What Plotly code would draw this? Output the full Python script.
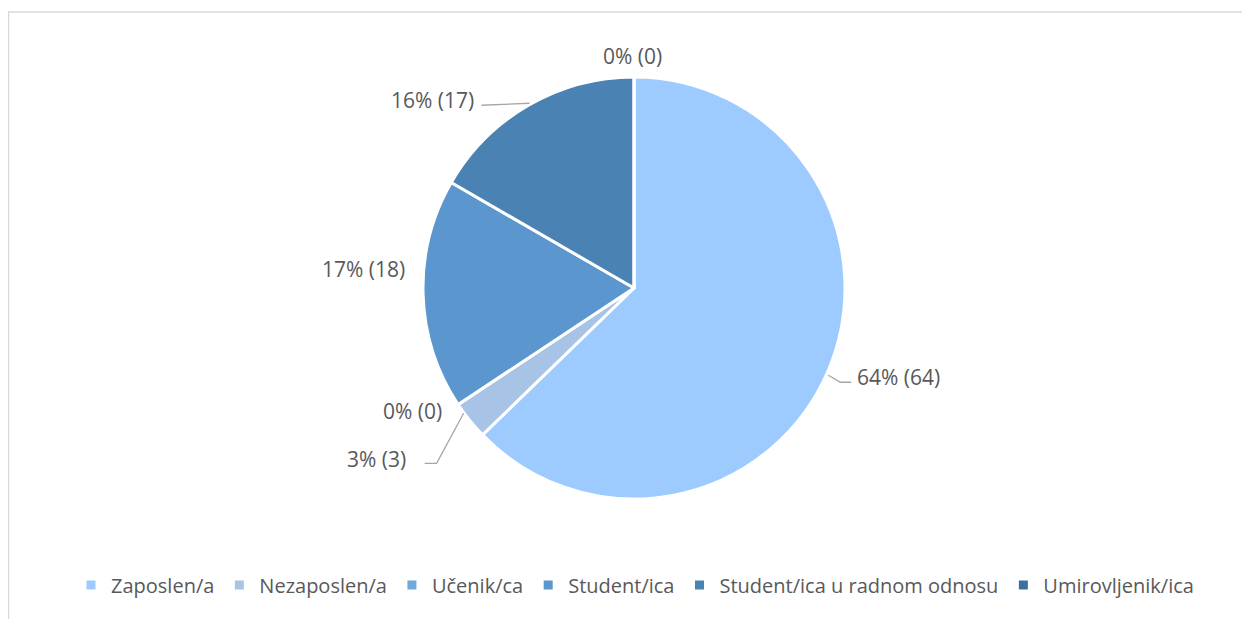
import math
import plotly.graph_objects as go

# ---- data ----
labels = ["Zaposlen/a", "Nezaposlen/a", "Učenik/ca", "Student/ica",
          "Student/ica u radnom odnosu", "Umirovljenik/ica"]
values = [64, 3, 0, 18, 17, 0]
pct_text = ["64%", "3%", "0%", "17%", "16%", "0%"]
colors = ["#9DCBFF", "#A7C3E6", "#6FA8DC", "#5B96CF", "#4A82B4", "#3E6E9E"]

OFF = 8                      # page body margin
W, H = 1250 - OFF, 619 - OFF
L, R, T, B = 0, 0, 77 - OFF, H - (499 - OFF)
pw, ph = W - L - R, H - T - B
PIE_CX = 634 - OFF           # pie centre x in figure pixels
r_px = ph / 2

dom_x = [(PIE_CX - r_px) / pw, (PIE_CX + r_px) / pw]

fig = go.Figure(go.Pie(
    labels=labels, values=values, sort=False, direction="clockwise",
    rotation=0, textinfo="none", hoverinfo="label+value+percent",
    marker=dict(colors=colors, line=dict(color="white", width=3)),
    domain=dict(x=dom_x, y=[0, 1]),
))

LABEL_FONT = dict(family="Open Sans", size=21, color="#595959")
# per label: text centre offset from slice-edge anchor (px), leader path offsets (px)
placement = {
    0: ((70, 7), [(0, 5), (12, 12), (23, 12)]),
    1: ((-93, 39), [(-6, -7), (-33, 43), (-45, 43)]),
    2: ((-46, 6), None),
    3: ((-60, -25), None),
    4: ((-96, -5), [(1, -2), (-47, 0)]),
    5: ((-2, -21), None),
}

def to_paper(px, py):
    return px / pw, 1 - (py - T) / ph

total = sum(values)
cum = 0
cy_px = T + ph / 2
for i, v in enumerate(values):
    mid = (cum + v / 2) / total * 2 * math.pi
    cum += v
    ax_px = PIE_CX + r_px * math.sin(mid)
    ay_px = cy_px - r_px * math.cos(mid)
    (dx, dy), leader = placement[i]
    tx, ty = to_paper(ax_px + dx, ay_px + dy)
    fig.add_annotation(x=tx, y=ty, xref="paper", yref="paper",
                       xanchor="center", yanchor="middle",
                       text=f"{pct_text[i]} ({v})", showarrow=False, font=LABEL_FONT)
    if leader:
        pts = [to_paper(ax_px + ox, ay_px + oy) for ox, oy in leader]
        path = "M " + " L ".join(f"{x:.5f},{y:.5f}" for x, y in pts)
        fig.add_shape(type="path", path=path, xref="paper", yref="paper",
                      line=dict(color="#A6A6A6", width=1.3))

# chart border
bx0, by1 = to_paper(0.5, 12 - OFF)
bx1, by0 = to_paper(W + 20, H + 20)
fig.add_shape(type="rect", xref="paper", yref="paper", x0=bx0, x1=bx1, y0=by0, y1=by1,
              line=dict(color="#D9D9D9", width=1.5), fillcolor="rgba(0,0,0,0)", layer="below")

fig.update_layout(
    width=W, height=H,
    margin=dict(l=L, r=R, t=T, b=B, autoexpand=False),
    paper_bgcolor="white", plot_bgcolor="white",
    font=dict(family="Open Sans", size=20, color="#595959"),
    showlegend=True,
    legend=dict(orientation="h", x=627 / pw, xanchor="center", y=-86 / ph, yanchor="middle",
                font=dict(family="Open Sans", size=20, color="#595959"),
                itemclick=False, bgcolor="rgba(0,0,0,0)"),
)

fig.write_html("out.html")
